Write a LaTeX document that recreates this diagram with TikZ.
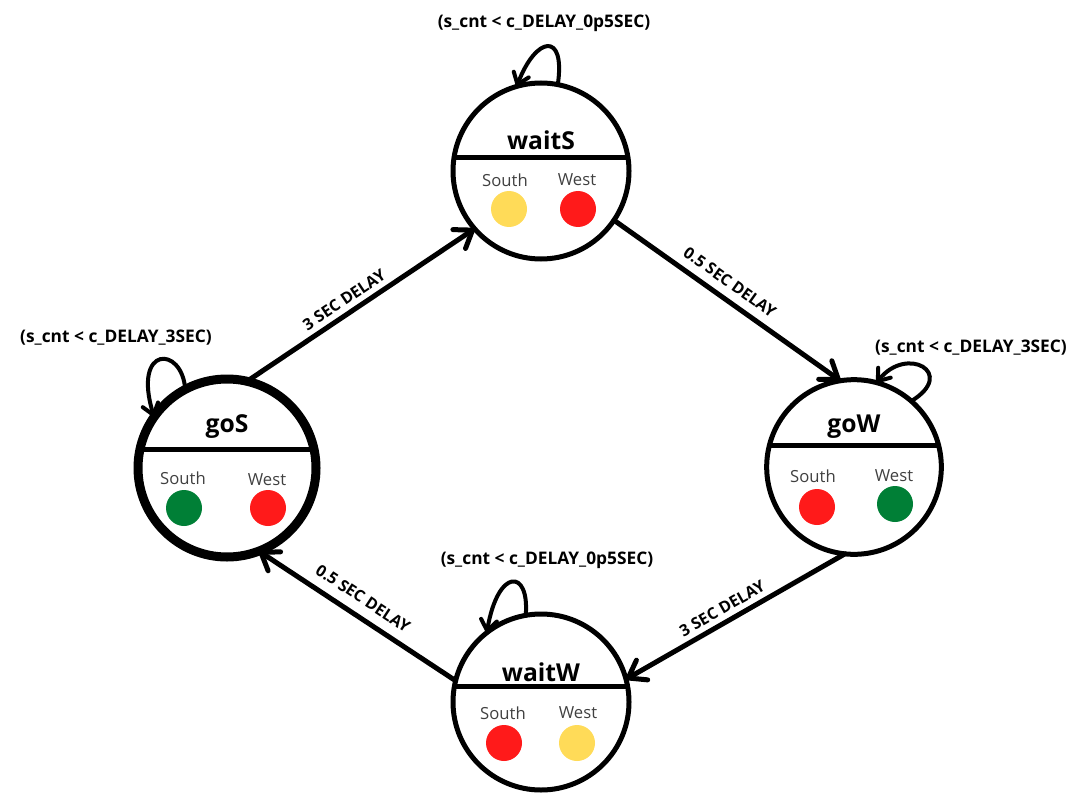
\documentclass[tikz,border=0pt]{standalone}
\usepackage{fontspec}
\setmainfont{Open Sans}
\usetikzlibrary{arrows.meta}
\definecolor{sigred}{HTML}{FF1A1A}
\definecolor{sigyellow}{HTML}{FFDB58}
\definecolor{siggreen}{HTML}{007F36}
\begin{document}
\begin{tikzpicture}[x=0.75pt,y=-0.75pt,
  state/.style={circle, draw, line width=3.75pt, minimum size=132pt, inner sep=0pt, outer sep=0pt},
  divider/.style={line width=3.75pt},
  title/.style={font=\bfseries\fontsize{18.5}{20}\selectfont},
  lamplabel/.style={font=\fontsize{12.5}{14}\selectfont, text=black!75},
  lamp/.style={circle, minimum size=27pt, inner sep=0pt},
  trans/.style={line width=3.75pt, line cap=round, -{Straight Barb[length=12pt,width=17pt,round]}},
  selfloop/.style={line width=3pt, line cap=round, -{Straight Barb[length=8pt,width=12pt,round]}},
  cond/.style={font=\bfseries\fontsize{13}{15}\selectfont},
  delay/.style={font=\bfseries\fontsize{12}{13}\selectfont, sloped, inner sep=1pt}
]
\useasboundingbox (0,0) rectangle (1080,802);

% states
\node[state] (waitS) at (541,171) {};
\node[state, line width=6.75pt, minimum size=133.5pt] (goS) at (227,468) {};
\node[state, minimum size=131pt] (goW) at (854,467) {};
\node[state] (waitW) at (541,702) {};

% dividers between name and lamps
\draw[divider] (waitS.171) -- (waitS.9);
\draw[divider] (goS.168) -- (goS.12);
\draw[divider] (goW.166) -- (goW.14);
\draw[divider] (waitW.170) -- (waitW.10);

% waitS
\node[title] (waitS-t) at (541,140) {waitS};
\node[lamplabel] (waitS-s) at (505,180) {South};
\node[lamplabel] (waitS-w) at (577,180) {West};
\node[lamp, fill=sigyellow] (waitS-sl) at (509,209) {};
\node[lamp, fill=sigred] (waitS-wl) at (578,209) {};

% goS
\node[title] (goS-t) at (227,427) {goS};
\node[lamplabel] (goS-s) at (183,478) {South};
\node[lamplabel] (goS-w) at (267,480) {West};
\node[lamp, fill=siggreen] (goS-sl) at (184,508) {};
\node[lamp, fill=sigred] (goS-wl) at (268,508) {};

% goW
\node[title] (goW-t) at (854,427) {goW};
\node[lamplabel] (goW-s) at (813,476) {South};
\node[lamplabel] (goW-w) at (894,476) {West};
\node[lamp, fill=sigred] (goW-sl) at (817,507) {};
\node[lamp, fill=siggreen] (goW-wl) at (895,504) {};

% waitW
\node[title] (waitW-t) at (541,672) {waitW};
\node[lamplabel] (waitW-s) at (503,713) {South};
\node[lamplabel] (waitW-w) at (578,713) {West};
\node[lamp, fill=sigred] (waitW-sl) at (504,743) {};
\node[lamp, fill=sigyellow] (waitW-wl) at (577,743) {};

% transitions
\draw[trans] (goS.77) -- node[delay, pos=0.46, above=3pt] {3 SEC DELAY} (waitS.221);
\draw[trans] (waitS.-34) -- node[delay, pos=0.47, above=5pt] {0.5 SEC DELAY} (goW.99);
\draw[trans] (goW.264) -- node[delay, pos=0.53, above=3pt] {3 SEC DELAY} (waitW.15);
\draw[trans] (waitW.166) -- node[delay, pos=0.52, above=6pt] {0.5 SEC DELAY} (goS.-69);

% self loops
\draw[selfloop] (waitS.79) .. controls +(8,-54) and +(19,-50) .. (waitS.106);
\draw[selfloop] (goS.118) .. controls +(-3,-44) and +(-22,-72) .. (goS.145);
\draw[selfloop] (goW.49) .. controls +(46,-28) and +(30,-38) .. (goW.75);
\draw[selfloop] (waitW.100) .. controls +(4,-47) and +(11,-65) .. (waitW.128);

% loop conditions
\node[cond] (waitS-c) at (544,23) {(s\_cnt < c\_DELAY\_0p5SEC)};
\node[cond] (goS-c) at (116,338) {(s\_cnt < c\_DELAY\_3SEC)};
\node[cond] (goW-c) at (971,348) {(s\_cnt < c\_DELAY\_3SEC)};
\node[cond] (waitW-c) at (547,560) {(s\_cnt < c\_DELAY\_0p5SEC)};
\end{tikzpicture}
\end{document}
